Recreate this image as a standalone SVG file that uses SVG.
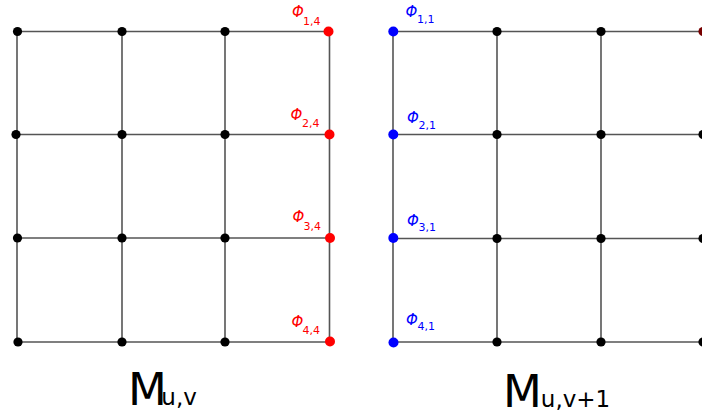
<svg xmlns="http://www.w3.org/2000/svg" width="702" height="412" viewBox="0 0 702 412">
<style>
.e{stroke:#555;stroke-width:1.6;fill:none}
.k{fill:#000}
.r{fill:#f00}
.b{fill:#00f}
.phi{font-family:"DejaVu Sans",sans-serif;font-style:italic;font-size:15px}
.sub{font-family:"DejaVu Sans",sans-serif;font-size:11px}
.lr{fill:#f00}
.lb{fill:#00f}
.M{font-family:"DejaVu Sans",sans-serif;font-size:45px;fill:#000}
.Ms{font-size:23px}
</style>
<rect width="702" height="412" fill="#fff"/>
<g id="connectors">
<path class="e" d="M17 31.5H329M17 134.5H329M17 238H330M18 342H330"/>
<path class="e" d="M17 31.5V342M122 31.5V342M225 31.5V342M329.5 31.5V342"/>
<path class="e" d="M393 31.5H702M393 134.5H702M393 238.5H702M393 342H702"/>
<path class="e" d="M393 31.5V342M497 31.5V342M601 31.5V342"/>
</g>
<g id="grid-left">
<g id="L11"><circle class="k" cx="17.5" cy="31.5" r="4.6"/></g>
<g id="L12"><circle class="k" cx="122" cy="31.5" r="4.6"/></g>
<g id="L13"><circle class="k" cx="225" cy="31.5" r="4.6"/></g>
<g id="L21"><circle class="k" cx="16" cy="134.5" r="4.6"/></g>
<g id="L22"><circle class="k" cx="122" cy="134.5" r="4.6"/></g>
<g id="L23"><circle class="k" cx="225" cy="134.5" r="4.6"/></g>
<g id="L31"><circle class="k" cx="17.5" cy="238" r="4.6"/></g>
<g id="L32"><circle class="k" cx="122" cy="238" r="4.6"/></g>
<g id="L33"><circle class="k" cx="225" cy="238" r="4.6"/></g>
<g id="L41"><circle class="k" cx="18" cy="342" r="4.6"/></g>
<g id="L42"><circle class="k" cx="122" cy="342" r="4.6"/></g>
<g id="L43"><circle class="k" cx="225" cy="342" r="4.6"/></g>
<g id="phi14"><circle class="r" cx="328.5" cy="31.5" r="5"/><text class="phi lr" x="292" y="17">Φ</text><text class="sub lr" x="303" y="25">1,4</text></g>
<g id="phi24"><circle class="r" cx="329.5" cy="134.5" r="5"/><text class="phi lr" x="290.5" y="120">Φ</text><text class="sub lr" x="302" y="127">2,4</text></g>
<g id="phi34"><circle class="r" cx="330" cy="238" r="5"/><text class="phi lr" x="292.5" y="222">Φ</text><text class="sub lr" x="303.5" y="229.5">3,4</text></g>
<g id="phi44"><circle class="r" cx="330" cy="341.5" r="5"/><text class="phi lr" x="291.5" y="327">Φ</text><text class="sub lr" x="302.5" y="333.5">4,4</text></g>
</g>
<g id="grid-right">
<g id="phi11"><circle class="b" cx="393.3" cy="31.5" r="5"/><text class="phi lb" x="405.5" y="17">Φ</text><text class="sub lb" x="417" y="23">1,1</text></g>
<g id="phi21"><circle class="b" cx="393.3" cy="134.5" r="5"/><text class="phi lb" x="407" y="123">Φ</text><text class="sub lb" x="418.5" y="128.5">2,1</text></g>
<g id="phi31"><circle class="b" cx="393.3" cy="238" r="5"/><text class="phi lb" x="407" y="226">Φ</text><text class="sub lb" x="418.5" y="231">3,1</text></g>
<g id="phi41"><circle class="b" cx="393.5" cy="342.5" r="5"/><text class="phi lb" x="406" y="325">Φ</text><text class="sub lb" x="417.5" y="330">4,1</text></g>
<g id="R12"><circle class="k" cx="497" cy="31.5" r="4.6"/></g>
<g id="R13"><circle class="k" cx="601" cy="31.5" r="4.6"/></g>
<g id="R14"><circle fill="#700" cx="703" cy="31.5" r="4.6"/></g>
<g id="R22"><circle class="k" cx="497" cy="134.5" r="4.6"/></g>
<g id="R23"><circle class="k" cx="601" cy="134.5" r="4.6"/></g>
<g id="R24"><circle class="k" cx="703" cy="134.5" r="4.6"/></g>
<g id="R32"><circle class="k" cx="497" cy="238.5" r="4.6"/></g>
<g id="R33"><circle class="k" cx="601" cy="238.5" r="4.6"/></g>
<g id="R34"><circle class="k" cx="703" cy="238.5" r="4.6"/></g>
<g id="R42"><circle class="k" cx="497" cy="342" r="4.6"/></g>
<g id="R43"><circle class="k" cx="601" cy="342" r="4.6"/></g>
<g id="R44"><circle class="k" cx="703" cy="342" r="4.6"/></g>
</g>
<g id="caption-left"><text class="M" x="128" y="405">M<tspan class="Ms" dx="-5.5">u,v</tspan></text></g>
<g id="caption-right"><text class="M" x="503" y="406.5">M<tspan class="Ms" dx="-1">u,v+1</tspan></text></g>
</svg>
